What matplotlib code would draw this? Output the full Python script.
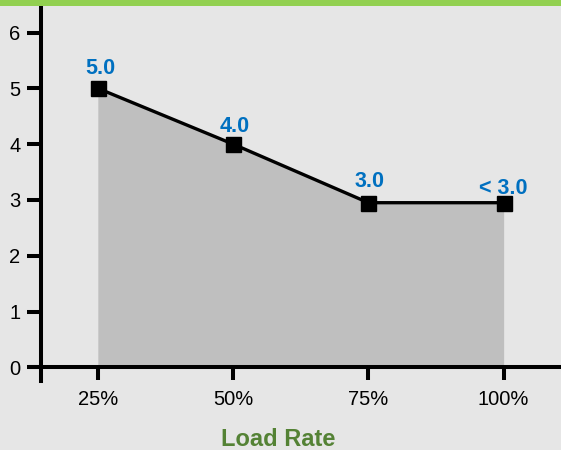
import matplotlib.pyplot as plt
from matplotlib.patches import Rectangle

# data
load_rates = ["25%", "50%", "75%", "100%"]
values = [5.0, 4.0, 2.95, 2.95]
value_labels = ["5.0", "4.0", "3.0", "< 3.0"]
y_ticks = [0, 1, 2, 3, 4, 5, 6]

plt.rcParams["font.family"] = ["Liberation Sans", "DejaVu Sans"]

bg = "#e6e6e6"
W, H = 561, 450
fig = plt.figure(figsize=(W / 100, H / 100), dpi=100, facecolor=bg)
fig.patches.append(Rectangle((0, 1 - 6 / H), 1, 6 / H, transform=fig.transFigure,
                             facecolor="#92d050", edgecolor="none"))

ax = fig.add_axes([31 / W, (H - 381) / H, 530 / W, 375 / H])
ax.set_facecolor(bg)

x = list(range(len(load_rates)))
ax.fill_between(x, 0, values, color="#bfbfbf", linewidth=0, zorder=1)
ax.plot(x, values, color="black", lw=2.4, marker="s", markersize=10.8,
        markerfacecolor="black", zorder=3, clip_on=False)

# value labels above points (baseline offsets in points)
offsets = [(1.5, 10), (1.5, 9), (0.7, 11.5), (0, 6.5)]
for xi, v, lab, off in zip(x, values, value_labels, offsets):
    ax.annotate(lab, (xi, v), xytext=off, textcoords="offset points",
                ha="center", va="baseline", color="#0070c0", fontsize=15.5,
                fontweight="bold")

ax.set_xlim(-0.494, 3.424)
ax.set_ylim(-0.245, 6.475)

ax.spines["top"].set_visible(False)
ax.spines["right"].set_visible(False)
ax.spines["left"].set_position(("data", -0.418))
ax.spines["bottom"].set_position(("data", 0))
for s in ("left", "bottom"):
    ax.spines[s].set_linewidth(2.9)
    ax.spines[s].set_zorder(4)

ax.set_xticks(x)
ax.set_xticklabels(load_rates)
ax.set_yticks(y_ticks)
ax.tick_params(axis="both", direction="out", width=2.9, labelsize=14.5,
               colors="black")
ax.tick_params(axis="x", length=9, pad=7)
ax.tick_params(axis="y", length=10, pad=5)

ax.set_xlabel("Load Rate", color="#548235", fontsize=17, fontweight="bold", labelpad=14)
ax.xaxis.label.set_x(0.466)

fig.savefig("out.png", dpi=100, facecolor=bg)
